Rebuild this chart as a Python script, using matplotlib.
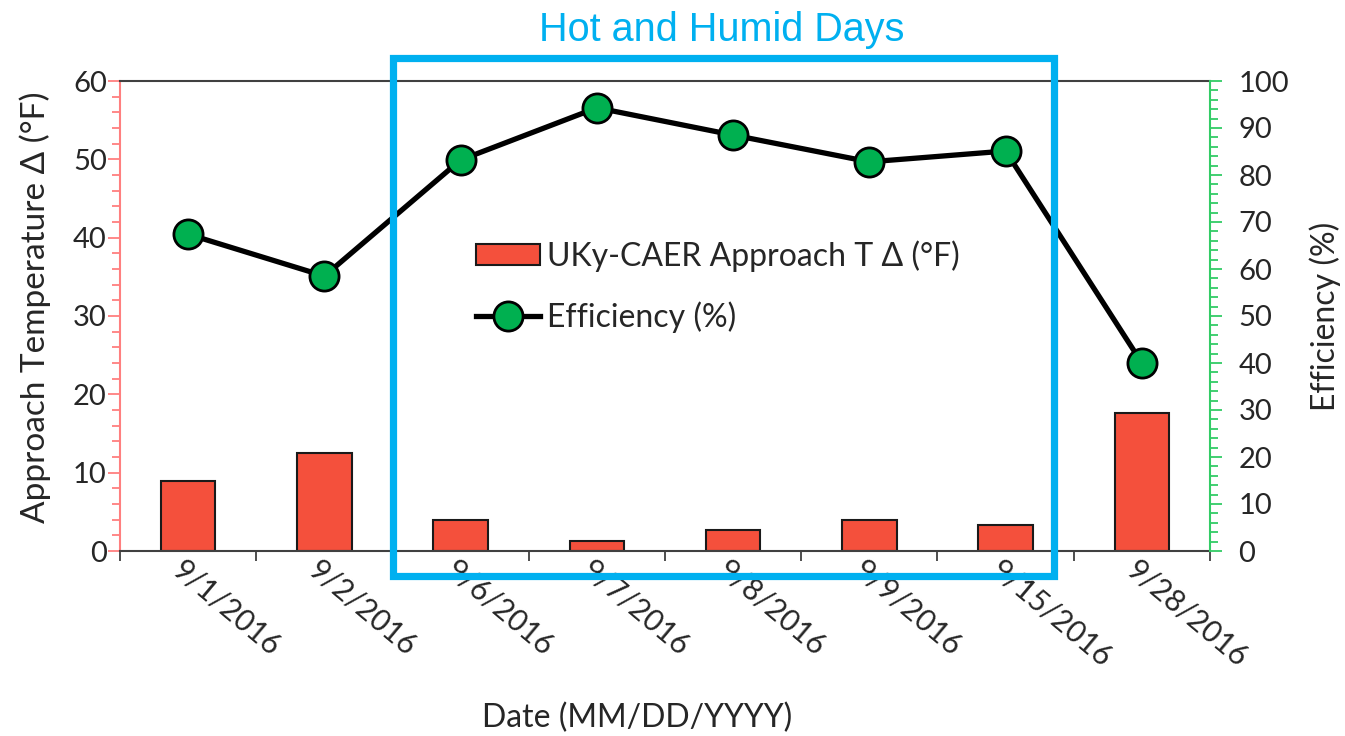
import matplotlib
matplotlib.use('Agg')
import matplotlib.pyplot as plt
from matplotlib.patches import Rectangle
from matplotlib.ticker import MultipleLocator, FixedLocator
import matplotlib.transforms as mtransforms

dates = ['9/1/2016', '9/2/2016', '9/6/2016', '9/7/2016', '9/8/2016', '9/9/2016', '9/15/2016', '9/28/2016']
approach = [8.9, 12.5, 3.9, 1.3, 2.7, 3.9, 3.3, 17.6]
efficiency = [67.4, 58.5, 83.2, 94.3, 88.5, 82.8, 85.1, 40.0]

plt.rcParams['font.family'] = ['Lato', 'DejaVu Sans']
TXT = '#262626'

fig = plt.figure(figsize=(13.45, 7.36), dpi=100)
ax = fig.add_axes([120/1345, 1-551/736, 1090/1345, 470/736])
ax2 = ax.twinx()

x = list(range(len(dates)))
bars = ax.bar(x, approach, width=0.4, color='#F4503C', edgecolor='#1a1a1a',
              linewidth=1.5, label='UKy-CAER Approach T Δ (°F)', zorder=2)
line, = ax2.plot(x, efficiency, color='black', lw=3.8, marker='o', ms=21,
                 mfc='#00B050', mec='black', mew=2, label='Efficiency (%)', zorder=3)

ax.set_xlim(-0.5, len(dates) - 0.5)
ax.set_ylim(0, 60)
ax2.set_ylim(0, 100)

# spines
for s in ['top', 'bottom']:
    ax.spines[s].set_color('#404040')
    ax.spines[s].set_linewidth(1.5)
ax.spines['right'].set_visible(False)
ax.spines['left'].set_color('#FF7F7F')
ax.spines['left'].set_linewidth(1.5)
for s in ['top', 'bottom', 'left']:
    ax2.spines[s].set_visible(False)
ax2.spines['right'].set_color('#33CC66')
ax2.spines['right'].set_linewidth(1.5)

# y ticks
ax.yaxis.set_major_locator(MultipleLocator(10))
ax.yaxis.set_minor_locator(MultipleLocator(2))
ax.tick_params(axis='y', which='major', direction='out', length=8.5, width=1.3,
               color='#FF7F7F', labelsize=21, labelcolor=TXT, pad=1)
ax.tick_params(axis='y', which='minor', direction='out', length=5.5, width=1.3,
               color='#FF7F7F')
ax2.yaxis.set_major_locator(MultipleLocator(10))
ax2.yaxis.set_minor_locator(MultipleLocator(2))
ax2.tick_params(axis='y', which='major', direction='out', length=8.5, width=1.3,
                color='#33CC66', labelsize=21, labelcolor=TXT, pad=12)
ax2.tick_params(axis='y', which='minor', direction='out', length=5.5, width=1.3,
                color='#33CC66')

# x ticks: boundaries as minor ticks, labels via text
ax.xaxis.set_major_locator(FixedLocator(x))
ax.xaxis.set_minor_locator(FixedLocator([i - 0.5 for i in range(len(dates) + 1)]))
ax.set_xticklabels([])
ax.tick_params(axis='x', which='major', length=0)
ax.tick_params(axis='x', which='minor', direction='out', length=7, width=1.3, color='#404040')
ax2.set_xticks([])

off = mtransforms.ScaledTranslation(-12/100, -15/100, fig.dpi_scale_trans)
for i, d in enumerate(dates):
    ax.text(i, 0, d, transform=ax.get_xaxis_transform() + off, rotation=-40,
            rotation_mode='anchor', ha='left', va='center', fontsize=21.5, color=TXT)

# axis titles
fig.text(35/1345, 1-307/736, 'Approach Temperature Δ (°F)', rotation=90,
         ha='center', va='center', fontsize=24, color=TXT)
fig.text(1325/1345, 1-316/736, 'Efficiency (%)', rotation=90,
         ha='center', va='center', fontsize=23, color=TXT)
fig.text(637/1345, 1-718/736, 'Date (MM/DD/YYYY)', ha='center', va='center',
         fontsize=23, color=TXT)

# legend
leg = ax2.legend([bars, line], ['UKy-CAER Approach T Δ (°F)', 'Efficiency (%)'],
                 loc='upper left', bbox_to_anchor=(476/1345, 1-240/736),
                 bbox_transform=fig.transFigure, frameon=False, fontsize=23,
                 handlelength=2.0, handleheight=0.63, handletextpad=0.22,
                 labelspacing=0.94, borderaxespad=0, borderpad=0)
for t in leg.get_texts():
    t.set_color(TXT)

# highlight box and title
fig.patches.append(Rectangle((393/1345, 1-576/736), (1054-393)/1345, (576-58)/736,
                             transform=fig.transFigure, fill=False,
                             edgecolor='#00B0F0', linewidth=5.2, zorder=10))
fig.text(722/1345, 1-30/736, 'Hot and Humid Days', ha='center', va='center',
         fontsize=28.5, color='#00B0F0', family=['Liberation Sans', 'DejaVu Sans'])

fig.savefig('out.png', dpi=100)
